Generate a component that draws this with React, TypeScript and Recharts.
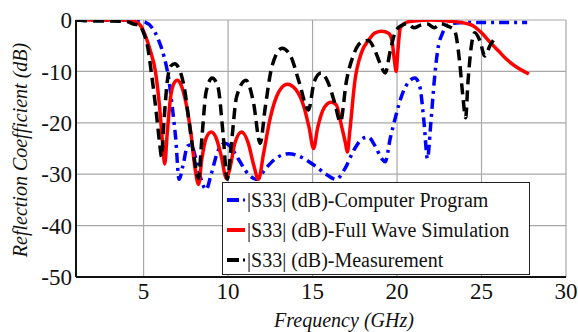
import { LineChart, Line, XAxis, YAxis, CartesianGrid, Legend } from 'recharts';

// frequency (GHz) / |S33| (dB)
const programFreq = [1, 3, 4.5, 5.0, 5.5, 5.9, 6.2, 6.5, 6.7, 6.9, 7.1, 7.35, 7.6, 7.8, 8.1, 8.4, 8.7, 9.0, 9.4, 9.8, 10.1, 10.6, 11.2, 11.7, 12.2, 12.8, 13.6, 14.4, 15.2, 15.8, 16.4, 16.9, 17.5, 18.0, 18.3, 18.7, 19.1, 19.3, 19.6, 19.9, 20.3, 20.7, 21.06, 21.35, 21.6, 21.8, 22.0, 22.2, 22.4, 22.7, 23.0, 23.5, 24, 25, 26, 27, 27.7];
const programDb = [0, 0, 0, -0.3, -1.5, -4, -7, -11.7, -17, -23, -31, -28, -24.5, -24.3, -27, -31, -33, -30, -25.5, -24, -24.5, -27, -30, -31, -29, -27, -26, -26.8, -28.5, -30, -31, -29, -25, -23, -22.8, -24.5, -27, -27.6, -23, -19, -14.5, -12, -11.3, -13, -20, -27, -20, -12, -6, -2.5, -1, -0.6, -0.5, -0.5, -0.5, -0.5, -0.5];

const simFreq = [1, 2, 3, 4, 4.5, 4.8, 5.1, 5.4, 5.7, 5.95, 6.1, 6.25, 6.4, 6.6, 6.8, 7.0, 7.2, 7.5, 7.8, 8.05, 8.25, 8.45, 8.7, 9.0, 9.3, 9.6, 9.9, 10.1, 10.4, 10.8, 11.2, 11.5, 11.8, 12.1, 12.5, 13.0, 13.5, 14.0, 14.5, 14.8, 15.06, 15.3, 15.7, 16.1, 16.4, 16.7, 16.95, 17.06, 17.2, 17.5, 17.9, 18.3, 18.7, 19.1, 19.5, 19.7, 19.85, 19.95, 20.05, 20.2, 20.6, 21, 22, 23, 24, 24.5, 25, 25.5, 26, 26.5, 27, 27.4, 27.8];
const simDb = [0, 0, 0, 0, -0.3, -1, -3, -6, -10, -17, -23, -28, -22, -15, -12.3, -11.7, -12.5, -16, -22, -29, -32, -27, -23, -21.8, -23, -26.5, -30.8, -29, -24, -21.8, -24, -28, -31, -26, -19, -14, -12.5, -13.5, -17, -21, -25, -21, -17, -16, -16.5, -20.4, -24, -25.7, -21.8, -12, -6.3, -4, -2.5, -2.2, -2.6, -4, -8, -10, -6, -1.5, -0.4, -0.2, 0, -0.2, -0.6, -1.1, -2.5, -4.3, -6, -7.7, -9, -9.8, -10.5];

const measFreq = [1, 2, 3, 4, 4.4, 4.76, 5.0, 5.2, 5.45, 5.75, 5.95, 6.06, 6.2, 6.4, 6.6, 6.85, 7.1, 7.4, 7.7, 8.0, 8.25, 8.45, 8.7, 9.06, 9.4, 9.7, 9.95, 10.2, 10.5, 11.06, 11.5, 11.9, 12.2, 12.6, 13.2, 13.7, 14.2, 14.76, 15.1, 15.5, 15.9, 16.3, 16.65, 17.0, 17.4, 17.9, 18.3, 18.7, 19.0, 19.3, 19.6, 19.9, 20.3, 20.6, 21, 21.4, 21.8, 22.2, 22.6, 23.0, 23.4, 23.7, 23.9, 24.06, 24.2, 24.4, 24.6, 24.9, 25.2, 25.5, 25.8];
const measDb = [0, -0.2, -0.2, -0.3, -0.8, -1, -2.5, -4.5, -10, -18, -24, -26.6, -20, -12, -9, -8.5, -9.5, -13, -20, -27, -30.8, -23, -14, -11.3, -13, -22, -31, -24, -15, -11.7, -16, -24, -17, -9, -5.5, -7, -12, -17.5, -12, -10.3, -12, -16, -19.8, -12, -7, -4.3, -4, -6, -8.5, -10.3, -6, -2.3, -1, -0.7, -1.5, -1, -0.8, -1.5, -0.7, -1.2, -2, -8, -15, -19, -12, -5, -2.5, -4, -7, -5, -3.5];

const xTicks = [5, 10, 15, 20, 25, 30];
const yTicks = [0, -10, -20, -30, -40, -50];

const toRows = (fs: number[], ds: number[]) => fs.map((f, i) => ({ f, db: ds[i] }));

const series = [
  { name: '|S33| (dB)-Computer Program', data: toRows(programFreq, programDb), color: '#0000ff', dash: '10 5 3 5', width: 3.5 },
  { name: '|S33| (dB)-Full Wave Simulation', data: toRows(simFreq, simDb), color: '#ff0000', dash: undefined, width: 3.5 },
  { name: '|S33| (dB)-Measurement', data: toRows(measFreq, measDb), color: '#000000', dash: '11 6', width: 3.5 },
];

const font = '"Times New Roman", Times, "Liberation Serif", Tinos, "DejaVu Serif", serif';

const LegendBox = () => (
  <div
    style={{
      background: '#fff',
      border: '1.5px solid #222',
      width: 308,
      height: 93,
      boxSizing: 'border-box',
      padding: '2px 0 0 3px',
      fontFamily: font,
      fontSize: 20,
      color: '#111',
      textAlign: 'left',
    }}
  >
    {series.map((s) => (
      <div key={s.name} style={{ display: 'flex', alignItems: 'center', height: 30, whiteSpace: 'nowrap' }}>
        <svg width={21} height={10}>
          {s.dash ? (
            <>
              <line x1={1} y1={5} x2={13} y2={5} stroke={s.color} strokeWidth={4} />
              <line x1={17} y1={5} x2={19} y2={5} stroke={s.color} strokeWidth={3} />
            </>
          ) : (
            <line x1={1} y1={5} x2={19} y2={5} stroke={s.color} strokeWidth={4} />
          )}
        </svg>
        <span>{s.name}</span>
      </div>
    ))}
  </div>
);

export default function App() {
  return (
    <div style={{ position: 'absolute', left: 0, top: 0, background: '#fff' }}>
      <LineChart width={578} height={332} margin={{ top: 20, right: 12, bottom: 0, left: 0 }}>
        <CartesianGrid stroke="#a8a8a8" strokeWidth={1.2} />
        <XAxis
          type="number"
          dataKey="f"
          domain={[1, 30]}
          ticks={xTicks}
          allowDataOverflow
          height={55}
          stroke="#111"
          strokeWidth={2}
          tickLine={false}
          tickSize={2}
          tickMargin={4}
          tick={{ fill: '#111', fontSize: 23, fontFamily: font }}
          label={{
            content: () => (
              <text x={344} y={327} textAnchor="middle" fill="#111" fontSize={20} fontStyle="italic" fontFamily={font}>
                Frequency (GHz)
              </text>
            ),
          }}
        />
        <XAxis xAxisId="top" orientation="top" type="number" domain={[1, 30]} height={0} tick={false} tickLine={false} stroke="#111" strokeWidth={2} />
        <YAxis
          type="number"
          domain={[-50, 0]}
          ticks={yTicks}
          allowDataOverflow
          width={76}
          stroke="#111"
          strokeWidth={2}
          tickLine={false}
          tickSize={2}
          tickMargin={2}
          tick={{ fill: '#111', fontSize: 23, fontFamily: font }}
          label={{
            content: () => (
              <text x={20} y={150} transform="rotate(-90 20 150)" textAnchor="middle" dominantBaseline="central" fill="#111" fontSize={20} fontStyle="italic" fontFamily={font}>
                Reflection Coefficient (dB)
              </text>
            ),
          }}
        />
        <YAxis yAxisId="right" orientation="right" domain={[-50, 0]} width={0} tick={false} tickLine={false} stroke="#555" />
        {series.map((s) => (
          <Line
            key={s.name}
            data={s.data}
            dataKey="db"
            name={s.name}
            type="monotone"
            stroke={s.color}
            strokeWidth={s.width}
            strokeDasharray={s.dash}
            dot={false}
            isAnimationActive={false}
          />
        ))}
        <Legend
          layout="vertical"
          align="center"
          verticalAlign="middle"
          content={() => <LegendBox />}
          wrapperStyle={{ position: 'absolute', left: 222, top: 182, width: 308, height: 93 }}
        />
      </LineChart>
    </div>
  );
}
